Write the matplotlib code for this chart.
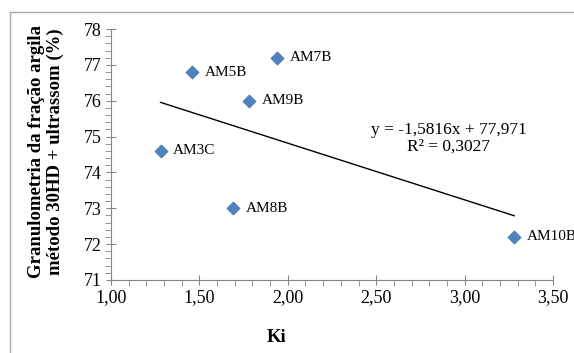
import matplotlib
matplotlib.use('Agg')
import matplotlib.pyplot as plt
from matplotlib.patches import Rectangle
from matplotlib.ticker import MultipleLocator, FuncFormatter
import numpy as np

# dados
amostras = ['AM5B', 'AM7B', 'AM9B', 'AM3C', 'AM8B', 'AM10B']
ki = [1.46, 1.94, 1.78, 1.28, 1.69, 3.28]
argila = [76.8, 77.2, 76.0, 74.6, 73.0, 72.2]
equacao = 'y = -1,5816x + 77,971\nR² = 0,3027'

plt.rcParams['font.family'] = ['Liberation Serif', 'DejaVu Serif']

fig = plt.figure(figsize=(5.74, 3.53), dpi=100)
ax = fig.add_axes([0.1934, 0.2068, 0.77, 0.711])

# moldura externa
fig.patches.append(Rectangle((10 / 574, -0.1), 1.2, 1 - 12 / 353 + 0.1,
                             transform=fig.transFigure, fill=False,
                             edgecolor='#a8a8a8', lw=1))

ax.scatter(ki, argila, marker='D', s=40, color='#4F81BD', zorder=3)
for nome, x, y in zip(amostras, ki, argila):
    ax.annotate(nome, (x, y), xytext=(9, 0), textcoords='offset points',
                va='center', ha='left', fontsize=11, annotation_clip=False)

# linha de tendência
a, b = np.polyfit(ki, argila, 1)
xs = np.array([min(ki), max(ki)])
ax.plot(xs, a * xs + b, color='black', lw=1)
ax.text(2.91, 74.95, equacao, ha='center', va='center', fontsize=12.5,
        linespacing=1.0)

ax.set_xlim(1.0, 3.5)
ax.set_ylim(71, 78)
ax.xaxis.set_major_locator(MultipleLocator(0.5))
ax.xaxis.set_minor_locator(MultipleLocator(0.1))
ax.yaxis.set_major_locator(MultipleLocator(1))
ax.yaxis.set_minor_locator(MultipleLocator(0.2))
ax.xaxis.set_major_formatter(FuncFormatter(lambda v, p: f'{v:.2f}'.replace('.', ',')))

for s in ['top', 'right']:
    ax.spines[s].set_visible(False)
for s in ['left', 'bottom']:
    ax.spines[s].set_color('#868686')
ax.tick_params(which='major', direction='inout', length=7, color='#868686',
               labelsize=13, pad=3)
ax.tick_params(which='minor', direction='out', length=4, color='#868686')

fig.text(277 / 574, 1 - 337 / 353, 'Ki', fontsize=13.5, fontweight='bold',
         ha='center', va='center')
fig.text(46 / 574, 1 - 152 / 353,
         'Granulometria da fração argila\nmétodo 30HD + ultrassom (%)',
         fontsize=13.5, fontweight='bold', rotation=90, ha='center',
         va='center', linespacing=1.1)

fig.savefig('out.png', dpi=100)
